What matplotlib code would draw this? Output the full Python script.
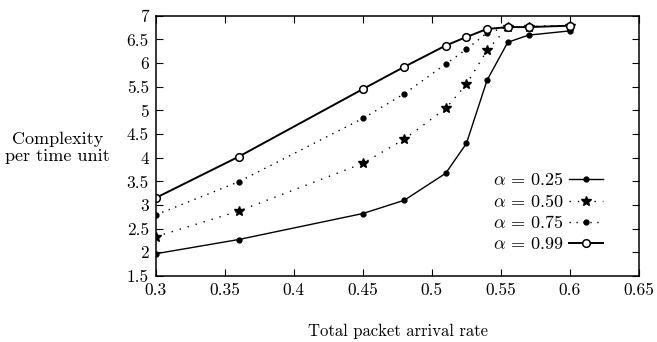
import matplotlib

matplotlib.use("Agg")
import matplotlib.pyplot as plt
from matplotlib.legend_handler import HandlerLine2D
from matplotlib.ticker import FuncFormatter, MultipleLocator

rate = [0.30, 0.36, 0.45, 0.48, 0.51, 0.525, 0.54, 0.555, 0.57, 0.60]
alpha_025 = [1.97, 2.27, 2.82, 3.10, 3.67, 4.30, 5.64, 6.44, 6.59, 6.68]
alpha_050 = [2.33, 2.87, 3.88, 4.39, 5.04, 5.55, 6.27, 6.76, 6.77, 6.79]
alpha_075 = [2.79, 3.49, 4.83, 5.35, 5.98, 6.29, 6.64, 6.76, 6.77, 6.79]
alpha_099 = [3.15, 4.02, 5.45, 5.92, 6.37, 6.55, 6.72, 6.76, 6.76, 6.79]
labels = [r"$\alpha$ = 0.25", r"$\alpha$ = 0.50", r"$\alpha$ = 0.75", r"$\alpha$ = 0.99"]


class MarkerLeft(HandlerLine2D):
    # gnuplot-style key: marker sits near the left end of the sample line
    def create_artists(self, legend, orig_handle, xdescent, ydescent, width, height,
                       fontsize, trans):
        artists = super().create_artists(legend, orig_handle, xdescent, ydescent, width,
                                         height, fontsize, trans)
        for art in artists:
            if art.get_linestyle() in ("None", ""):
                art.set_xdata([-xdescent + 0.3 * width])
        return artists


plt.rcParams.update(
    {
        "font.family": "serif",
        "font.serif": ["cmr10"],
        "mathtext.fontset": "cm",
        "axes.formatter.use_mathtext": True,
        "font.size": 11,
        "axes.linewidth": 1.1,
    }
)

fig = plt.figure(figsize=(6.57, 3.42), dpi=100)
ax = fig.add_axes([0.237, 0.193, 0.7356, 0.761])

ink = "black"
ax.plot(rate, alpha_025, "-", color=ink, lw=1.0, marker="o", ms=3.5, label=labels[0])
ax.plot(rate, alpha_050, color=ink, lw=1.0, ls=(0, (1, 5)), marker="*", ms=7, label=labels[1])
ax.plot(rate, alpha_075, color=ink, lw=1.0, ls=(0, (1, 4)), marker="o", ms=3.5, label=labels[2])
ax.plot(rate, alpha_099, "-", color=ink, lw=1.4, marker="o", ms=5.5, mfc="white", mew=1.1,
        label=labels[3])

ax.set_xlim(0.3, 0.65)
ax.set_ylim(1.5, 7)
ax.xaxis.set_major_locator(MultipleLocator(0.05))
ax.yaxis.set_major_locator(MultipleLocator(0.5))
fmt = FuncFormatter(lambda v, _: f"{v:g}")
ax.xaxis.set_major_formatter(fmt)
ax.yaxis.set_major_formatter(fmt)
ax.tick_params(direction="in", top=True, right=True, length=5, labelsize=12.5, pad=5)

fig.text(0.606, 0.032, "Total packet arrival rate", ha="center", va="center", fontsize=12)
fig.text(0.087, 0.567, "Complexity\nper time unit", ha="center", va="center", fontsize=13,
         linespacing=1.1)

ax.legend(loc="lower right", bbox_to_anchor=(0.96, 0.03), frameon=False, fontsize=13,
          handlelength=1.9, labelspacing=0.25, markerfirst=False, handletextpad=0.3,
          handler_map={plt.Line2D: MarkerLeft()})

fig.savefig("out.png", dpi=100)
